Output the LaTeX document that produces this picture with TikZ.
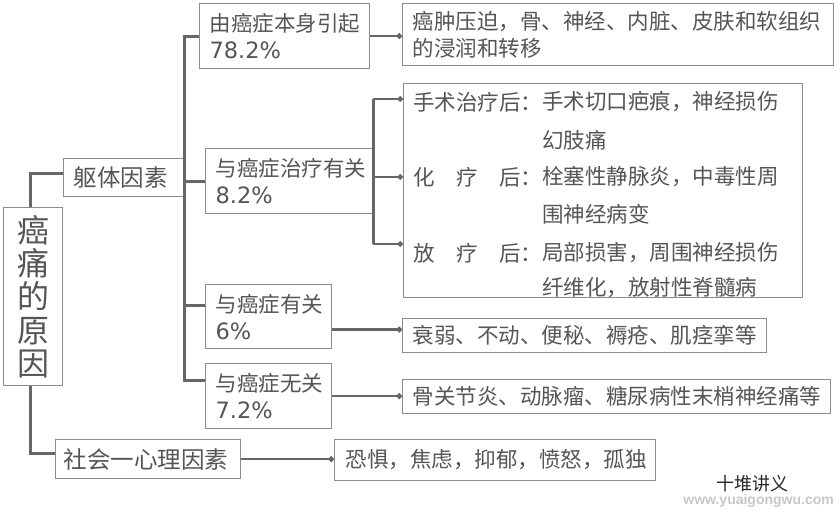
\documentclass[tikz,border=0pt]{standalone}
\usepackage{fontspec}
\setmainfont{Noto Sans CJK SC}
\newfontfamily\wmfont{Liberation Sans}
\newfontfamily\numfont{DejaVu Sans}
\newcommand\pct[1]{{\numfont\fontsize{22.5}{27}\selectfont #1}}
\usetikzlibrary{arrows.meta,calc}
\definecolor{txt}{HTML}{555555}
\definecolor{bd}{HTML}{8C8C8C}
\definecolor{ln}{HTML}{666666}
\tikzset{
  box/.style={draw=bd, line width=1.1pt, anchor=north west, inner xsep=10pt, inner ysep=0pt,
    align=left, text=txt, font=\fontsize{21.5}{27}\selectfont},
  lbl/.style={anchor=west, inner sep=0pt, text=txt, font=\fontsize{21.5}{27}\selectfont},
  trunk/.style={draw=ln, line width=3pt},
  arr/.style={draw=ln, line width=2.2pt, -{Circle[length=5.5pt]}},
}
\begin{document}
\begin{tikzpicture}[x=1pt,y=-1pt]
\useasboundingbox (0,0) rectangle (837,510);
% root and first level
\node[box, align=center, inner xsep=0pt, minimum width=59, minimum height=178, text width=59,
  font=\fontsize{32}{33.3}\selectfont] (root) at (3,207) {癌\\痛\\的\\原\\因};
\node[box, minimum width=120, minimum height=38, text width=100, font=\fontsize{23.5}{28}\selectfont] (qt) at (63,158) {躯体因素};
\node[box, inner xsep=8pt, minimum width=185, minimum height=39, text width=169, font=\fontsize{23.5}{28}\selectfont] (sh) at (55,439) {社会一心理因素};
% second level
\node[box, minimum width=170, minimum height=65, text width=150] (b1) at (199,3) {由癌症本身引起\\\pct{78.2\%}};
\node[box, minimum width=167, minimum height=65, text width=147] (b2) at (205,148) {与癌症治疗有关\\\pct{8.2\%}};
\node[box, minimum width=126, minimum height=64, text width=106] (b3) at (205,284) {与癌症有关\\\pct{6\%}};
\node[box, minimum width=126, minimum height=65, text width=106] (b4) at (205,363) {与癌症无关\\\pct{7.2\%}};
% right boxes
\node[box, minimum width=431, minimum height=62, text width=411] (r1) at (402,3) {癌肿压迫，骨、神经、内脏、皮肤和软组织\\的浸润和转移};
\node[box, minimum width=399, minimum height=214] (big) at (403,83) {};
\node[box, minimum width=364, minimum height=34, text width=344] (r3) at (402,318) {衰弱、不动、便秘、褥疮、肌痉挛等};
\node[box, minimum width=428, minimum height=34, text width=408] (r4) at (402,379) {骨关节炎、动脉瘤、糖尿病性末梢神经痛等};
\node[box, inner xsep=11pt, minimum width=321, minimum height=41, text width=299] (r5) at (334,439) {恐惧，焦虑，抑郁，愤怒，孤独};
% contents of big box
\node[lbl] (l1) at (413,102) {手术治疗后：};
\node[lbl] (l2) at (413,177) {化　疗　后：};
\node[lbl] (l3) at (413,253) {放　疗　后：};
\node[lbl] (d1) at (542,102) {手术切口疤痕，神经损伤};
\node[lbl] (d1b) at (542,140) {幻肢痛};
\node[lbl] (d2) at (542,177) {栓塞性静脉炎，中毒性周};
\node[lbl] (d2b) at (542,214) {围神经病变};
\node[lbl] (d3) at (542,253) {局部损害，周围神经损伤};
\node[lbl] (d3b) at (542,288) {纤维化，放射性脊髓病};
% watermark
\node[anchor=west, inner sep=0pt, text=black!85, font=\fontsize{18}{19}\selectfont] (wm1) at (716,484) {十堆讲义};
\node[anchor=east, inner sep=0pt, text=black!22, font=\wmfont\bfseries\fontsize{14}{15}\selectfont] (wm2) at (834,501) {www.yuaigongwu.com};
% connectors: root
\draw[trunk] ([xshift=-3pt]root.north) |- ([yshift=4pt]qt.west);
\draw[trunk] ([xshift=-3pt]root.south) |- ([yshift=6pt]sh.west);
% main trunk
\draw[trunk] (b1.west) -- (b1.west -| qt.east) -- ([yshift=16pt]b4.west -| qt.east) -- ([yshift=16pt]b4.west);
\draw[trunk] (b2.west -| qt.east) -- (b2.west);
\draw[trunk] ([yshift=11pt]b3.west -| qt.east) -- ([yshift=11pt]b3.west);
% third level trunk
\draw[trunk] ([yshift=3pt]b2.east |- l1.west) -- ([yshift=9pt]b2.east |- l3.west);
\draw[arr] ([yshift=3pt]b2.east |- l1.west) -- ([yshift=3pt]big.west |- l1.west);
\draw[arr] (b2.east |- l2.west) -- (big.west |- l2.west);
\draw[arr] ([yshift=9pt]b2.east |- l3.west) -- ([yshift=9pt]big.west |- l3.west);
% right connectors
\draw[arr] (b1.east) -- (b1.east -| r1.west);
\draw[arr] ([yshift=-13pt]b3.east) -- ([yshift=-13pt]b3.east -| r3.west);
\draw[arr] (b4.east) -- (b4.east -| r4.west);
\draw[arr] (sh.east) -- (sh.east -| r5.west);
\end{tikzpicture}
\end{document}
